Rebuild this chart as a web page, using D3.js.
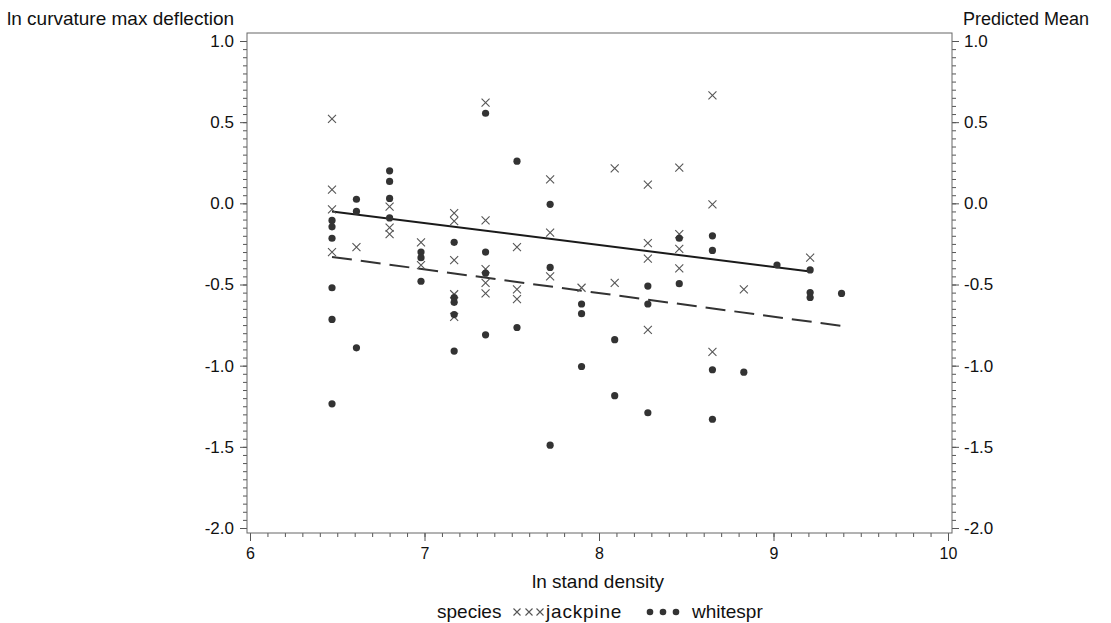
<!DOCTYPE html>
<html>
<head>
<meta charset="utf-8">
<script src="https://cdn.jsdelivr.net/npm/d3@7"></script>
<style>
  body { margin: 0; background: #fff; }
  svg { display: block; font-family: "Liberation Sans", Arial, sans-serif; }
  .axis path { stroke: #666; }
  .axis line { stroke: #555; }
  .axis text { fill: #111; font-size: 17px; }
  .axis.xax text { font-size: 16px; }
</style>
</head>
<body>
<script>
// observed points, [ln stand density, ln curvature max deflection]
var jackpine = [
  [6.47, 0.52], [6.47, 0.085], [6.47, -0.037], [6.47, -0.30],
  [6.61, -0.27],
  [6.80, -0.02], [6.80, -0.15], [6.80, -0.19],
  [6.98, -0.24], [6.98, -0.38],
  [7.17, -0.06], [7.17, -0.11], [7.17, -0.35], [7.17, -0.56], [7.17, -0.70],
  [7.35, 0.62], [7.35, -0.105], [7.35, -0.405], [7.35, -0.49], [7.35, -0.555],
  [7.53, -0.27], [7.53, -0.53], [7.53, -0.59],
  [7.72, 0.147], [7.72, -0.18], [7.72, -0.45],
  [7.90, -0.52],
  [8.09, 0.215], [8.09, -0.49],
  [8.28, 0.115], [8.28, -0.245], [8.28, -0.34], [8.28, -0.78],
  [8.46, 0.22], [8.46, -0.19], [8.46, -0.28], [8.46, -0.40],
  [8.65, 0.665], [8.65, -0.006], [8.65, -0.915],
  [8.83, -0.53],
  [9.21, -0.335]
];
var whitespr = [
  [6.47, -0.105], [6.47, -0.145], [6.47, -0.215], [6.47, -0.52], [6.47, -0.715], [6.47, -1.235],
  [6.61, 0.025], [6.61, -0.05], [6.61, -0.89],
  [6.80, 0.20], [6.80, 0.135], [6.80, 0.03], [6.80, -0.09],
  [6.98, -0.30], [6.98, -0.335], [6.98, -0.48],
  [7.17, -0.24], [7.17, -0.58], [7.17, -0.61], [7.17, -0.685], [7.17, -0.91],
  [7.35, 0.555], [7.35, -0.30], [7.35, -0.43], [7.35, -0.81],
  [7.53, 0.26], [7.53, -0.765],
  [7.72, -0.006], [7.72, -0.395], [7.72, -1.49],
  [7.90, -0.62], [7.90, -0.68], [7.90, -1.005],
  [8.09, -0.84], [8.09, -1.185],
  [8.28, -0.51], [8.28, -0.62], [8.28, -1.29],
  [8.46, -0.215], [8.46, -0.495],
  [8.65, -0.20], [8.65, -0.29], [8.65, -1.025], [8.65, -1.33],
  [8.83, -1.04],
  [9.02, -0.38],
  [9.21, -0.41], [9.21, -0.55], [9.21, -0.58],
  [9.39, -0.555]
];
// predicted means (straight fits)
var jackpineFit = [[6.47, -0.05], [9.21, -0.42]];
var whitesprFit = [[6.47, -0.33], [9.39, -0.755]];

var species = ["jackpine", "whitespr"];
var xTicks = [6, 7, 8, 9, 10];
var yTicks = [1.0, 0.5, 0.0, -0.5, -1.0, -1.5, -2.0];

var W = 1111, H = 623;
var frame = { left: 247, right: 952, top: 33, bottom: 533 };

var svg = d3.select("body").append("svg")
    .attr("width", W)
    .attr("height", H);

var x = d3.scaleLinear().domain([6, 10]).range([250, 948]);
var y = d3.scaleLinear().domain([-2, 1]).range([528, 41]);

var fmt = function(d) { return d.toFixed(1); };

// minor ticks
var xMinor = d3.range(60, 101).map(function(v) { return v / 10; });
var yMinor = d3.range(-40, 21).map(function(v) { return v / 20; });

function minorAxis(axis, g) {
    g.call(axis);
    g.select(".domain").remove();
    g.selectAll("text").remove();
}

svg.append("g").attr("class", "axis")
  .attr("transform", "translate(0," + frame.bottom + ")")
  .call(function(g) { minorAxis(d3.axisBottom(x).tickValues(xMinor).tickSize(4), g); });
svg.append("g").attr("class", "axis")
  .attr("transform", "translate(" + frame.left + ",0)")
  .call(function(g) { minorAxis(d3.axisLeft(y).tickValues(yMinor).tickSize(4), g); });
svg.append("g").attr("class", "axis")
  .attr("transform", "translate(" + frame.right + ",0)")
  .call(function(g) { minorAxis(d3.axisRight(y).tickValues(yMinor).tickSize(4), g); });

// major ticks + labels
var gx = svg.append("g").attr("class", "axis xax")
  .attr("transform", "translate(0," + frame.bottom + ")")
  .call(d3.axisBottom(x).tickValues(xTicks).tickSize(8).tickPadding(7).tickFormat(d3.format("d")));
gx.select(".domain").remove();

var gyl = svg.append("g").attr("class", "axis")
  .attr("transform", "translate(" + frame.left + ",0)")
  .call(d3.axisLeft(y).tickValues(yTicks).tickSize(7).tickPadding(6).tickFormat(fmt));
gyl.select(".domain").remove();

var gyr = svg.append("g").attr("class", "axis")
  .attr("transform", "translate(" + frame.right + ",0)")
  .call(d3.axisRight(y).tickValues(yTicks).tickSize(7).tickPadding(5).tickFormat(fmt));
gyr.select(".domain").remove();

// frame
svg.append("rect")
  .attr("x", frame.left).attr("y", frame.top)
  .attr("width", frame.right - frame.left)
  .attr("height", frame.bottom - frame.top)
  .attr("fill", "none")
  .attr("stroke", "#666")
  .attr("stroke-width", 1);

// fitted lines
var line = d3.line()
  .x(function(d) { return x(d[0]); })
  .y(function(d) { return y(d[1]); });

svg.append("path").datum(jackpineFit)
  .attr("d", line)
  .attr("fill", "none")
  .attr("stroke", "#1a1a1a")
  .attr("stroke-width", 2);

svg.append("path").datum(whitesprFit)
  .attr("d", line)
  .attr("fill", "none")
  .attr("stroke", "#333")
  .attr("stroke-width", 2)
  .attr("stroke-dasharray", "20,9");

// markers
function cross(sel, s) {
    sel.append("path")
      .attr("d", "M" + (-s) + "," + (-s) + "L" + s + "," + s + "M" + (-s) + "," + s + "L" + s + "," + (-s))
      .attr("fill", "none")
      .attr("stroke", "#555")
      .attr("stroke-width", 1.1);
}

svg.append("g").selectAll("g")
  .data(jackpine)
  .enter().append("g")
  .attr("transform", function(d) { return "translate(" + x(d[0]) + "," + y(d[1]) + ")"; })
  .each(function() { cross(d3.select(this), 4); });

svg.append("g").selectAll("circle")
  .data(whitespr)
  .enter().append("circle")
  .attr("cx", function(d) { return x(d[0]); })
  .attr("cy", function(d) { return y(d[1]); })
  .attr("r", 3.6)
  .attr("fill", "#333");

// titles
svg.append("text")
  .attr("x", 7).attr("y", 25)
  .attr("font-size", 19)
  .attr("fill", "#111")
  .text("ln curvature max deflection");

svg.append("text")
  .attr("x", 963).attr("y", 25)
  .attr("font-size", 18)
  .attr("fill", "#111")
  .text("Predicted Mean");

svg.append("text")
  .attr("x", 598).attr("y", 588)
  .attr("text-anchor", "middle")
  .attr("font-size", 19)
  .attr("fill", "#111")
  .text("ln stand density");

// legend
var leg = svg.append("g");
leg.append("text")
  .attr("x", 437).attr("y", 618)
  .attr("font-size", 19)
  .attr("fill", "#111")
  .text("species");

[517, 529, 540].forEach(function(cx) {
    cross(leg.append("g").attr("transform", "translate(" + cx + ",612)"), 3.5);
});
leg.append("text")
  .attr("x", 546).attr("y", 618)
  .attr("font-size", 19)
  .attr("letter-spacing", "0.8px")
  .attr("fill", "#111")
  .text(species[0]);

[650, 663, 676].forEach(function(cx) {
    leg.append("circle").attr("cx", cx).attr("cy", 612).attr("r", 3.3).attr("fill", "#333");
});
leg.append("text")
  .attr("x", 692).attr("y", 618)
  .attr("font-size", 19)
  .attr("fill", "#111")
  .text(species[1]);
</script>
</body>
</html>
